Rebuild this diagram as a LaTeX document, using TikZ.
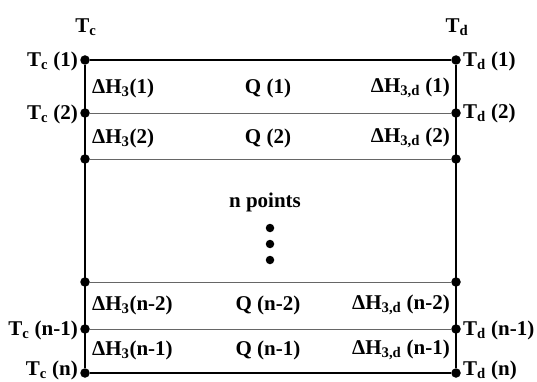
\documentclass[tikz,border=0pt]{standalone}
\usepackage{fontspec}
\setmainfont{Liberation Serif}
\begin{document}
\begin{tikzpicture}[x=1pt,y=-1pt,
  lbl/.style={font=\fontsize{21}{23}\bfseries\selectfont, inner sep=0pt},
  thick line/.style={line width=1.8pt, black},
  thin line/.style={line width=0.9pt, black!60},
  pt/.style={circle, fill=black, inner sep=0pt, minimum size=9.5pt}]
\useasboundingbox (0,0) rectangle (537,382);
\newcommand{\sbs}[1]{\textsubscript{#1}}
% points
\foreach \y/\n in {60/1,113/2,159/3,282/4,329/5,373/6}{
  \node[pt] (L\n) at (85,\y) {};
  \node[pt] (R\n) at (456,\y) {};
}
\draw[thick line] (L1) -- (R1);
\draw[thick line] (L6) -- (R6);
\draw[thick line] (L1) -- (L6);
\draw[thick line] (R1) -- (R6);
\foreach \n in {2,3,4,5}{ \draw[thin line] (L\n) -- (R\n); }
% headings
\node[lbl] (tc) at (86,27) {T\sbs{c}};
\node[lbl] (td) at (457,27) {T\sbs{d}};
% left labels
\node[lbl, anchor=east] (tc1) at (78,61) {T\sbs{c} (1)};
\node[lbl, anchor=east] (tc2) at (78,114) {T\sbs{c} (2)};
\node[lbl, anchor=east] (tcn1) at (78,330) {T\sbs{c} (n-1)};
\node[lbl, anchor=east] (tcn) at (78,370) {T\sbs{c} (n)};
% right labels
\node[lbl, anchor=west] (td1) at (463,61) {T\sbs{d} (1)};
\node[lbl, anchor=west] (td2) at (463,113) {T\sbs{d} (2)};
\node[lbl, anchor=west] (tdn1) at (463,330) {T\sbs{d} (n-1)};
\node[lbl, anchor=west] (tdn) at (463,370) {T\sbs{d} (n)};
% rows
\foreach \y/\t/\s in {88/1/(1),138/2/(2),305/3/(n-2),350/4/(n-1)}{
  \node[lbl, anchor=west] (h\t) at (92,\y) {ΔH\sbs{3}\s};
  \node[lbl] (q\t) at (268,\y) {Q \s};
  \node[lbl, anchor=east] (hd\t) at (450,\y) {ΔH\sbs{3,d} \s};
}
\node[lbl] (np) at (265,202) {n points};
\foreach \y/\n in {228/1,244/2,260/3}{ \node[pt, minimum size=8.5pt] (d\n) at (270,\y) {}; }
\end{tikzpicture}
\end{document}
